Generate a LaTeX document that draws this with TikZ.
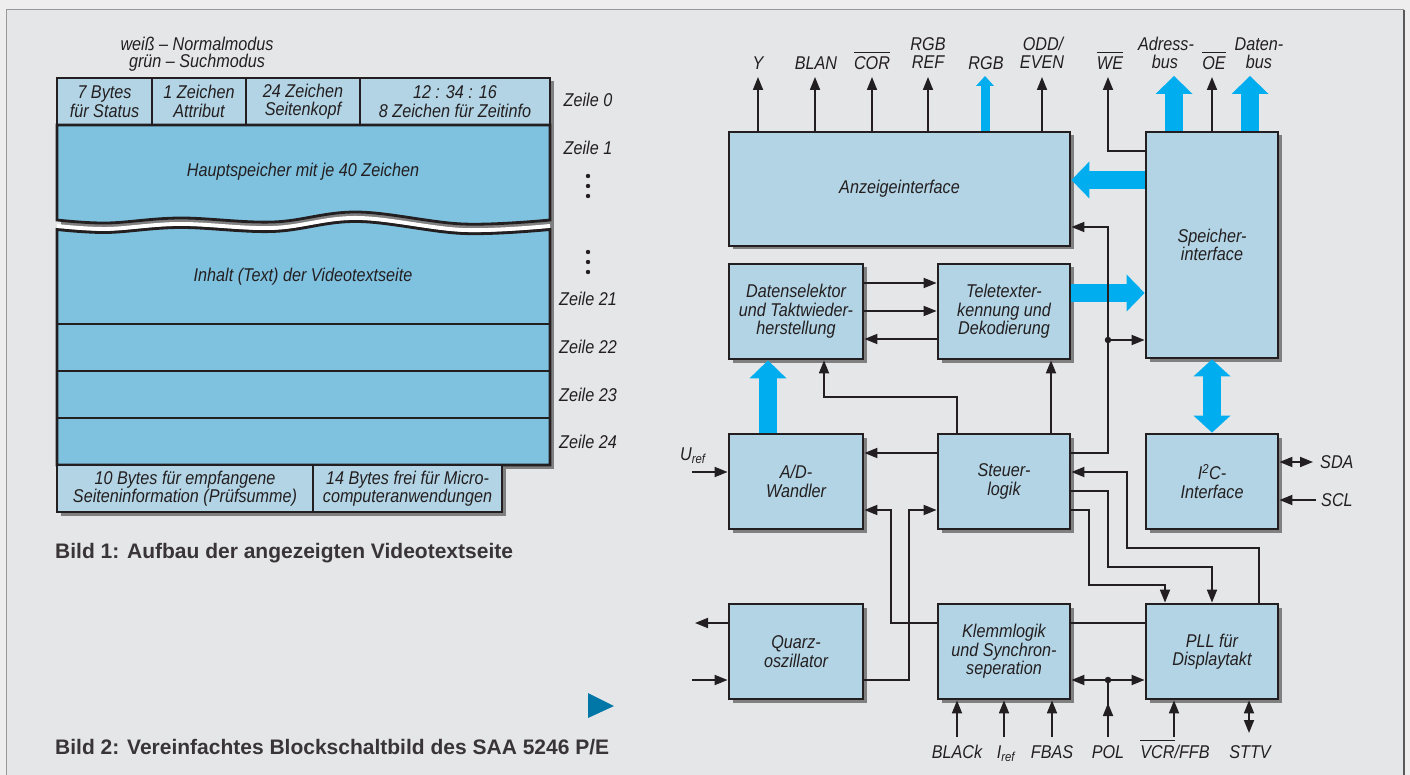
\documentclass[tikz,border=0pt]{standalone}
\usepackage{fontspec}
\setmainfont{Liberation Sans}
\newfontfamily\lf{Liberation Sans}[FakeStretch=0.875]
\usetikzlibrary{arrows.meta,shadows}
\definecolor{bg}{HTML}{E5E6E8}
\definecolor{bgout}{HTML}{EEEEEE}
\definecolor{lblue}{HTML}{B3D4E5}
\definecolor{mblue}{HTML}{7FC2E0}
\definecolor{cyanA}{HTML}{00AEEF}
\definecolor{ink}{HTML}{231F20}
\definecolor{tri}{HTML}{0077A6}
\newcommand\ovl[1]{\leavevmode\vbox{\hrule height 1pt\kern 4pt\hbox{#1}}}
\tikzset{
 lab/.style={font=\lf\itshape\fontsize{18.5}{18.5}\selectfont, text=ink, align=center, inner sep=0pt},
 blk/.style={draw=ink, line width=2.8pt, fill=lblue, inner sep=0pt, lab,
   drop shadow={shadow xshift=3.5pt, shadow yshift=-3.5pt, fill=black!50, opacity=1}},
 wire/.style={draw=ink, line width=1.8pt},
 arr/.style={wire, -{Triangle[length=13pt,width=10pt]}},
 darr/.style={wire, {Triangle[length=13pt,width=10pt]}-{Triangle[length=13pt,width=10pt]}},
 bus/.style={draw=cyanA, line width=18pt, -{Triangle[length=18pt,width=37pt,line width=0pt]}},
 sbus/.style={draw=cyanA, line width=9pt, -{Triangle[length=10pt,width=18pt,line width=0pt]}},
 dbus/.style={draw=cyanA, line width=18pt, {Triangle[length=17pt,width=37pt,line width=0pt]}-{Triangle[length=17pt,width=37pt,line width=0pt]}},
 jdot/.style={circle, fill=ink, inner sep=0pt, minimum size=6.5pt},
 captxt/.style={font=\bfseries\fontsize{21}{23}\selectfont, text=ink!90, anchor=base west, inner sep=0pt},
 cell/.style={draw=ink, line width=2.8pt, fill=lblue},
 wave/.style={smooth, tension=0.6},
}
\begin{document}
\begin{tikzpicture}[x=1pt,y=-1pt]
\useasboundingbox (0,0) rectangle (1410,775);
\fill[bgout] (0,0) rectangle (1410,775);
\fill[bg] (6,10) rectangle (1404,780);
\draw[black!40, line width=1pt] (6,780) -- (6,10) -- (1404,10);
\draw[black!65, line width=2pt] (1404,10) -- (1404,780);

% ================= Bild 1 =================
\node[lab, anchor=base] (mode1) at (197,51) {weiß – Normalmodus};
\node[lab, anchor=base] (mode2) at (197,68) {grün – Suchmodus};

% shadows
\fill[black!50] (60.5,81.5) rectangle (553.5,128.5);
\fill[black!50] (60.5,128) rectangle (553.5,468.5);
\fill[black!50] (60.5,468) rectangle (505.5,515.5);

% top cells
\draw[cell] (57,78) rectangle (152,125);
\draw[cell] (152,78) rectangle (246,125);
\draw[cell] (246,78) rectangle (360,125);
\draw[cell] (360,78) rectangle (550,125);
\node[lab] (c1) at (104.5,101.5) {7 Bytes\\für Status};
\node[lab] (c2) at (199,101.5) {1 Zeichen\\Attribut};
\node[lab] (c3) at (303,101.5) {24 Zeichen\\Seitenkopf};
\node[lab] (c4) at (455,101.5) {12 : 34 : 16\\8 Zeichen für Zeitinfo};

% main box 1 with wavy bottom
\draw[cell, fill=mblue] (57,125) -- (550,125) -- (550,220)
  -- plot[wave] coordinates {(550,220) (463,224) (357,212) (273,222) (180,218) (107,223) (57,220)} -- cycle;
% white gap
\draw[white, line width=4pt] plot[wave] coordinates {(57,226) (107,229) (180,224) (273,228) (357,218) (463,230) (550,226)};
% main box 2 with wavy top
\draw[cell, fill=mblue] plot[wave] coordinates {(57,229.5) (107,232.5) (180,227.5) (273,231.5) (357,221.5) (463,233.5) (550,229.5)}
  -- (550,465) -- (57,465) -- cycle;
\draw[ink, line width=2.2pt] (57,324) -- (550,324);
\draw[ink, line width=2.2pt] (57,371) -- (550,371);
\draw[ink, line width=2.2pt] (57,418) -- (550,418);
\node[lab] (hs) at (303,172) {Hauptspeicher mit je 40 Zeichen};
\node[lab] (inh) at (303,277) {Inhalt (Text) der Videotextseite};

% bottom cells
\draw[cell] (57,465) rectangle (313,512);
\draw[cell] (313,465) rectangle (502,512);
\node[lab] (b1) at (185,488.5) {10 Bytes für empfangene\\Seiteninformation (Prüfsumme)};
\node[lab] (b2) at (407.5,488.5) {14 Bytes frei für Micro-\\computeranwendungen};

% Zeile labels
\node[lab, anchor=base] (z0) at (588,107) {Zeile 0};
\node[lab, anchor=base] (z1) at (588,155) {Zeile 1};
\node[lab, anchor=base] (z21) at (588,306) {Zeile 21};
\node[lab, anchor=base] (z22) at (588,353) {Zeile 22};
\node[lab, anchor=base] (z23) at (588,401) {Zeile 23};
\node[lab, anchor=base] (z24) at (588,448) {Zeile 24};
\foreach \yy in {176,186,196,252,262,272} \fill[ink] (588,\yy) circle (2.2pt);

\node[captxt] (cap1) at (55,558) {Bild 1: Aufbau der angezeigten Videotextseite};
\node[captxt] (cap2) at (55,754) {Bild 2: Vereinfachtes Blockschaltbild des SAA 5246 P/E};
\fill[tri] (588,693) -- (588,718) -- (614,706) -- cycle;

% ================= Bild 2 =================
\node[blk, minimum width=341pt, minimum height=114pt] (anz) at (899.5,189) {Anzeigeinterface};
\node[blk, minimum width=132pt, minimum height=226pt] (spe) at (1212,245) {Speicher-\\interface};
\node[blk, minimum width=134pt, minimum height=95pt] (dsel) at (796,311.5) {Datenselektor\\und Taktwieder-\\herstellung};
\node[blk, minimum width=132pt, minimum height=95pt] (ttx) at (1004,311.5) {Teletexter-\\kennung und\\Dekodierung};
\node[blk, minimum width=134pt, minimum height=95pt] (adw) at (796,481.5) {A/D-\\Wandler};
\node[blk, minimum width=132pt, minimum height=95pt] (stl) at (1004,481.5) {Steuer-\\logik};
\node[blk, minimum width=132pt, minimum height=95pt] (i2c) at (1212,481.5) {I\textsuperscript{2}C-\\Interface};
\node[blk, minimum width=134pt, minimum height=95pt] (qrz) at (796,651.5) {Quarz-\\oszillator};
\node[blk, minimum width=132pt, minimum height=95pt] (klm) at (1004,651.5) {Klemmlogik\\und Synchron-\\seperation};
\node[blk, minimum width=132pt, minimum height=95pt] (pll) at (1212,651.5) {PLL für\\Displaytakt};

% top outputs
\coordinate (tY) at (758,77);
\coordinate (tBLAN) at (815,77);
\coordinate (tCOR) at (872,77);
\coordinate (tREF) at (928,77);
\coordinate (tRGB) at (985,76);
\coordinate (tODD) at (1042,77);
\coordinate (tWE) at (1108,77);
\coordinate (tADR) at (1174,76);
\coordinate (tOE) at (1212,77);
\coordinate (tDAT) at (1250,76);
\draw[arr] (tY |- anz.north) -- (tY);
\draw[arr] (tBLAN |- anz.north) -- (tBLAN);
\draw[arr] (tCOR |- anz.north) -- (tCOR);
\draw[arr] (tREF |- anz.north) -- (tREF);
\draw[sbus] (tRGB |- anz.north) -- (tRGB);
\draw[arr] (tODD |- anz.north) -- (tODD);
\draw[arr] (spe.west |- 0,151) -| (tWE);
\draw[bus] (tADR |- spe.north) -- (tADR);
\draw[arr] (tOE |- spe.north) -- (tOE);
\draw[bus] (tDAT |- spe.north) -- (tDAT);

\node[lab, anchor=base] (lY) at (758,70) {Y};
\node[lab, anchor=base] (lBLAN) at (816,70) {BLAN};
\node[lab, anchor=base] (lCOR) at (872,70) {\ovl{COR}};
\node[lab, anchor=base] (lREF1) at (928,51) {RGB};
\node[lab, anchor=base] (lREF2) at (928,69) {REF};
\node[lab, anchor=base] (lRGB) at (986,70) {RGB};
\node[lab, anchor=base] (lODD1) at (1043,51) {ODD/};
\node[lab, anchor=base] (lODD2) at (1042,69) {EVEN};
\node[lab, anchor=base] (lWE) at (1110,70) {\ovl{WE}};
\node[lab, anchor=base] (lADR1) at (1166,51) {Adress-};
\node[lab, anchor=base] (lADR2) at (1165,69) {bus};
\node[lab, anchor=base] (lOE) at (1214,70) {\ovl{OE}};
\node[lab, anchor=base] (lDAT1) at (1259,51) {Daten-};
\node[lab, anchor=base] (lDAT2) at (1259,69) {bus};

% buses
\draw[bus] (spe.west |- 0,180) -- (anz.east |- 0,180);
\draw[bus] (ttx.east |- 0,293) -- (spe.west |- 0,293);
\draw[bus] (adw.north -| 768,0) -- (dsel.south -| 768,0);
\draw[dbus] (spe.south) -- (i2c.north);

% Datenselektor <-> Teletext
\draw[arr] (dsel.east |- 0,283) -- (ttx.west |- 0,283);
\draw[arr] (dsel.east |- 0,311) -- (ttx.west |- 0,311);
\draw[arr] (ttx.west |- 0,339) -- (dsel.east |- 0,339);

% Steuerlogik connections
\draw[arr] (stl.north -| 957,0) |- (824,397) -- (dsel.south -| 824,0);
\draw[arr] (stl.north -| 1051,0) -- (ttx.south -| 1051,0);
\draw[arr] (stl.west |- 0,453) -- (adw.east |- 0,453);
\draw[arr] (stl.east |- 0,453) -| (1108,227) -- (anz.east |- 0,227);
\node[jdot] (j1) at (1108,340) {};
\draw[arr] (j1) -- (spe.west |- j1);
\draw[arr] (pll.north -| 1259,0) |- (1127,548) |- (stl.east |- 0,472);
\draw[arr] (stl.east |- 0,491) -| (1108,567) -| (pll.north -| 1212,0);
\draw[arr] (stl.east |- 0,510) -| (1089,585) -| (pll.north -| 1165,0);

% U_ref
\coordinate (uref) at (692,472);
\draw[arr] (uref) -- (adw.west |- uref);
\node[lab, anchor=base west] (lUref) at (680,460) {U\textsubscript{ref}};

% Klemmlogik / Quarz
\draw[arr] (klm.west |- 0,623) -| (891,510) -- (adw.east |- 0,510);
\draw[arr] (qrz.east |- 0,680) -| (909,510) -- (stl.west |- 0,510);
\draw[wire] (klm.east |- 0,623) -- (pll.west |- 0,623);
\coordinate (qo) at (695,623);
\coordinate (qi) at (692,680);
\draw[arr] (qrz.west |- qo) -- (qo);
\draw[arr] (qi) -- (qrz.west |- qi);

% bottom inputs
\coordinate (bBL) at (957,737);
\coordinate (bIR) at (1004,737);
\coordinate (bFB) at (1052,737);
\coordinate (bPOL) at (1108,737);
\coordinate (bVCR) at (1174,737);
\coordinate (bST) at (1249,733);
\draw[arr] (bBL) -- (klm.south -| bBL);
\draw[arr] (bIR) -- (klm.south -| bIR);
\draw[arr] (bFB) -- (klm.south -| bFB);
\node[jdot] (j2) at (1108,680) {};
\draw[wire] (bPOL) -- (j2);
\draw[arr] (bPOL) -- ++(0,-34);
\draw[darr] (klm.east |- j2) -- (pll.west |- j2);
\draw[arr] (bVCR) -- (pll.south -| bVCR);
\draw[darr] (pll.south -| bST) -- (bST);

\node[lab, anchor=base] (lBL) at (957,758) {BLACk};
\node[lab, anchor=base] (lIR) at (1006,758) {I\textsubscript{ref}};
\node[lab, anchor=base] (lFB) at (1052,758) {FBAS};
\node[lab, anchor=base] (lPOL) at (1108,758) {POL};
\node[lab, anchor=base] (lVCR) at (1175,758) {\ovl{VCR}/FFB};
\node[lab, anchor=base] (lST) at (1250,758) {STTV};

% I2C
\coordinate (sda) at (1313,462);
\coordinate (scl) at (1316,500);
\draw[darr] (i2c.east |- sda) -- (sda);
\draw[arr] (scl) -- (i2c.east |- scl);
\node[lab, anchor=base west] (lSDA) at (1320,468) {SDA};
\node[lab, anchor=base west] (lSCL) at (1321,506) {SCL};
\end{tikzpicture}
\end{document}
